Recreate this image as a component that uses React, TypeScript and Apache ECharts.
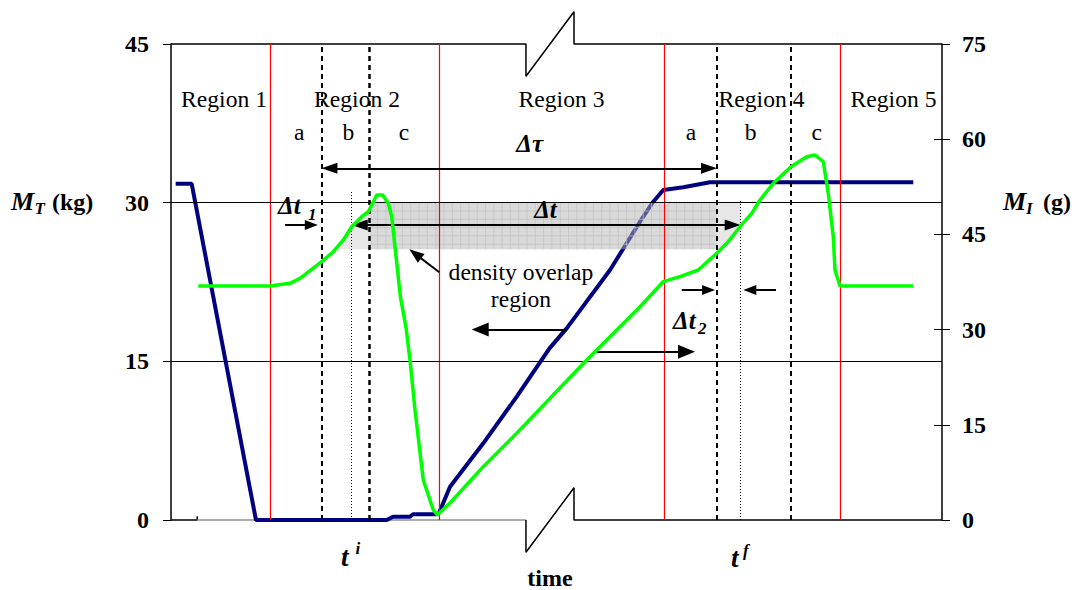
import React, { useEffect, useRef } from "react";
import * as echarts from "echarts";

// ---- data (time in arbitrary units 0..100) ----
const timeRange = [0, 100];
const massTotalTicks = [0, 45, 15]; // min, max, interval (kg)
const massIntTicks = [0, 75, 15]; // min, max, interval (g)
const massIntInnerTicks = [15, 30, 45, 60];

const blueTime = [0.61, 2.68, 11.02, 27.98, 28.79, 31.0, 31.39, 34.5, 34.76, 36.19, 40.5, 44.84, 49.09, 51.32, 56.94, 60.83, 62.55, 63.85, 66.45, 69.9, 96.28];
const blueMass = [31.79, 31.79, 0, 0, 0.31, 0.31, 0.54, 0.54, 0.66, 3.15, 7.25, 11.66, 16.23, 18.12, 23.63, 28.2, 30.09, 31.2, 31.45, 31.93, 31.93];

const greenTime = [3.54, 12.84, 15.43, 16.73, 19.55, 21.05, 22.35, 23.44, 24.73, 25.59, 26.03, 26.68, 27.46, 28.18, 28.63, 28.96, 29.38, 29.75, 30.5, 31.0, 31.65, 32.72, 34.02, 34.54, 36.19, 40.5, 44.84, 49.16, 53.92, 60.83, 63.85, 66.02, 68.39, 70.78, 72.28, 73.8, 75.32, 76.39, 78.12, 80.42, 82.45, 83.53, 84.6, 85.25, 85.9, 86.12, 86.77, 96.28];
const greenMass = [36.87, 36.87, 37.29, 38.08, 40.7, 42.27, 44.12, 46.21, 47.79, 48.57, 49.63, 51.21, 51.21, 49.9, 47.79, 44.12, 39.39, 35.2, 30.2, 25.21, 17.33, 6.3, 1.58, 0.79, 2.68, 8.4, 13.66, 19.17, 25.21, 33.61, 37.55, 38.34, 39.39, 42.02, 43.85, 46.21, 48.32, 50.42, 53.05, 55.66, 57.24, 57.51, 56.45, 51.47, 44.64, 39.39, 36.87, 36.87];

const regionBounds = [12.905, 34.825, 64.01, 86.83];
const subRegionBounds = [19.55, 25.72, 70.78, 80.42];
const dottedTimes = [23.44, 73.89];
const dottedTops = [31.04, 30.25];
const gridLevels = [15, 30];

const regionLabels = ["Region 1", "Region 2", "Region 3", "Region 4", "Region 5"];
const subLabels = ["a", "b", "c", "a", "b", "c"];

// axis break (time, kg)
const breakTimes = [46.04, 52.27];
const breakDepth = [3.05, 3.05];

// overlap band (time, kg)
const overlapTime = [25.72, 70.78];
const overlapMass = [25.59, 30];
const overlapLeftT = [21.05, 22.35, 23.44, 24.73, 25.72, 25.72];
const overlapLeftM = [25.59, 26.47, 27.73, 28.67, 29.2, 25.59];
const overlapRightT = [70.78, 71.1, 72.28, 73.8, 73.89, 73.89, 70.78];
const overlapRightM = [25.59, 25.59, 26.31, 27.73, 27.8, 30, 30];

// arrows: [t1, m1, t2, m2, headStart, headEnd, headW, headH]
const arrowDefs = [
  [20.55, 33.25, 69.78, 33.25, 1, 1, 11, 16],
  [24.48, 27.89, 72.85, 27.89, 1, 1, 11, 16],
  [14.79, 27.89, 18.2, 27.89, 0, 1, 10, 13],
  [66.24, 21.74, 69.72, 21.74, 0, 1, 10, 13],
  [78.47, 21.74, 75.07, 21.74, 0, 1, 10, 13],
  [34.8, 23.42, 31.68, 25.16, 0, 1, 11, 15],
  [51.32, 18.02, 40.1, 18.02, 0, 1, 14, 17],
  [55.21, 15.91, 66.86, 15.91, 0, 1, 14, 17],
];

const FONT = "Liberation Serif";

function zip(a: number[], b: number[]) {
  return a.map((v, i) => [v, b[i]]);
}

function txt(x: number, y: number, text: string, size: number, weight = "normal", style = "normal", align = "center") {
  return {
    type: "text",
    x,
    y,
    z: 100,
    style: {
      text,
      fontFamily: FONT,
      fontSize: size,
      fontWeight: weight,
      fontStyle: style,
      fill: "#000",
      align,
      verticalAlign: "middle",
    },
  };
}

export default function App() {
  const ref = useRef<HTMLDivElement>(null);
  useEffect(() => {
    if (!ref.current) return;
    const chart = echarts.init(ref.current, null, { renderer: "svg" });

    const [b0, b1] = breakTimes;
    const topFrame = [
      [timeRange[0], 45],
      [b0, 45],
      [b0, 45 - breakDepth[0]],
      [b1, 45 + breakDepth[1]],
      [b1, 45],
      [timeRange[1], 45],
    ];
    const bottomFrameLeft = [
      [timeRange[0], 0],
      [3.4, 0],
      [3.4, 0.35],
    ];
    const bottomFrameGrey = [
      [3.4, 0],
      [b0, 0],
    ];
    const bottomFrameRight = [
      [b0, 0],
      [b0, -breakDepth[0]],
      [b1, breakDepth[1]],
      [b1, 0],
      [timeRange[1], 0],
    ];

    const refMarks: any[] = [];
    gridLevels.forEach((v) => refMarks.push({ yAxis: v, lineStyle: { color: "#000", width: 1, type: "solid" } }));
    subRegionBounds.forEach((v, i) =>
      refMarks.push({ xAxis: v, lineStyle: { color: "#000", width: i === 1 ? 2.5 : 2, type: [5, 4] } })
    );
    dottedTimes.forEach((v, i) =>
      refMarks.push([
        { coord: [v, 0], lineStyle: { color: "#000", width: 1, type: [1, 2] } },
        { coord: [v, dottedTops[i]] },
      ])
    );
    const redMarks = regionBounds.map((v) => [
      { coord: [v, massTotalTicks[0]], lineStyle: { color: "#ff0000", width: 1.2, type: "solid", opacity: 1 } },
      { coord: [v, massTotalTicks[1]] },
    ]);

    // inner tick marks on the right axis (ticks crossing the axis line)
    const tickLen = (8 / 771) * (timeRange[1] - timeRange[0]);
    const innerTickMarks = massIntInnerTicks.map((v) => [
      { coord: [timeRange[1] - tickLen, v], lineStyle: { color: "#000", width: 1, type: "solid" } },
      { coord: [timeRange[1], v] },
    ]);

    const arrowMarks = arrowDefs.map((a) => [
      {
        coord: [a[0], a[1]],
        symbol: a[4] ? "triangle" : "none",
        symbolSize: [a[6], a[7]],
        lineStyle: { color: "#000", width: 2, type: "solid" },
      },
      { coord: [a[2], a[3]], symbol: a[5] ? "triangle" : "none", symbolSize: [a[6], a[7]] },
    ]);

    const overlapSeries = {
      type: "custom",
      yAxisIndex: 0,
      z: 4,
      silent: true,
      clip: false,
      data: [[overlapTime[0], overlapMass[0]]],
      renderItem: (_params: any, api: any) => {
        const p0 = api.coord([overlapTime[0], overlapMass[1]]);
        const p1 = api.coord([overlapTime[1], overlapMass[0]]);
        const children: any[] = [];
        children.push({
          type: "rect",
          shape: { x: p0[0], y: p0[1], width: p1[0] - p0[0], height: p1[1] - p0[1] },
          style: { fill: "#b4b4b4", opacity: 0.5 },
        });
        const left = overlapLeftT.map((t, i) => api.coord([t, overlapLeftM[i]]));
        const right = overlapRightT.map((t, i) => api.coord([t, overlapRightM[i]]));
        children.push({ type: "polygon", shape: { points: left }, style: { fill: "#d0d0d0", opacity: 0.5 } });
        children.push({ type: "polygon", shape: { points: right }, style: { fill: "#d0d0d0", opacity: 0.5 } });
        const step = 8.3;
        for (let x = p0[0] + step; x < p1[0]; x += step) {
          children.push({
            type: "line",
            shape: { x1: x, y1: p0[1], x2: x, y2: p1[1] },
            style: { stroke: "#c2c2c2", lineWidth: 0.7 },
          });
        }
        for (let y = p0[1] + step; y < p1[1]; y += step) {
          children.push({
            type: "line",
            shape: { x1: p0[0], y1: y, x2: p1[0], y2: y },
            style: { stroke: "#c2c2c2", lineWidth: 0.7 },
          });
        }
        return { type: "group", children };
      },
    };

    const regionCenters = [224, 357, 561.5, 761.5, 893.5];
    const subCenters = [299.3, 348.3, 404, 691, 750.7, 816.7];

    const graphics: any[] = [];
    regionLabels.forEach((r, i) => graphics.push(txt(regionCenters[i], 99, r, 23.6)));
    subLabels.forEach((s, i) => graphics.push(txt(subCenters[i], 131.5, s, 23.6)));
    graphics.push(txt(529.7, 143.3, "Δτ", 25, "bold", "italic"));
    graphics.push(txt(545.5, 209.3, "Δt", 25, "bold", "italic"));
    graphics.push(txt(278, 205, "Δt", 25, "bold", "italic", "left"));
    graphics.push(txt(308, 214, "1", 17, "bold", "italic", "left"));
    graphics.push(txt(673, 320, "Δt", 25, "bold", "italic", "left"));
    graphics.push(txt(698, 328, "2", 17, "bold", "italic", "left"));
    graphics.push(txt(521, 271.5, "density overlap", 23.6));
    graphics.push(txt(521, 299, "region", 23.6));
    graphics.push(txt(341, 557, "t", 27, "bold", "italic", "left"));
    graphics.push(txt(355.5, 548, "i", 17, "bold", "italic", "left"));
    graphics.push(txt(731, 558, "t", 27, "bold", "italic", "left"));
    graphics.push(txt(743, 550, "f", 17, "bold", "italic", "left"));
    graphics.push(txt(550, 578, "time", 24, "bold"));
    graphics.push(txt(11, 201, "M", 26, "bold", "italic", "left"));
    graphics.push(txt(34.5, 208, "T", 17, "bold", "italic", "left"));
    graphics.push(txt(52, 202, "(kg)", 24, "bold", "normal", "left"));
    graphics.push(txt(1003, 201, "M", 26, "bold", "italic", "left"));
    graphics.push(txt(1026, 208, "I", 17, "bold", "italic", "left"));
    graphics.push(txt(1043, 202, "(g)", 24, "bold", "normal", "left"));

    const axisLabelStyle = { fontFamily: FONT, fontSize: 24, fontWeight: "bold", color: "#000" };

    chart.setOption({
      animation: false,
      backgroundColor: "#fff",
      textStyle: { fontFamily: FONT },
      grid: { left: 171, top: 44, width: 771, height: 476, containLabel: false },
      xAxis: { type: "value", min: timeRange[0], max: timeRange[1], show: false },
      yAxis: [
        {
          type: "value",
          position: "left",
          min: massTotalTicks[0],
          max: massTotalTicks[1],
          interval: massTotalTicks[2],
          axisLine: { show: true, onZero: false, lineStyle: { color: "#000", width: 1.5 } },
          axisTick: { show: true, inside: false, length: 8, lineStyle: { color: "#000", width: 1 } },
          axisLabel: { ...axisLabelStyle, margin: 22 },
          splitLine: { show: false },
        },
        {
          type: "value",
          position: "right",
          min: massIntTicks[0],
          max: massIntTicks[1],
          interval: massIntTicks[2],
          axisLine: { show: true, onZero: false, lineStyle: { color: "#000", width: 1.5 } },
          axisTick: { show: true, inside: false, length: 8, lineStyle: { color: "#000", width: 1 } },
          axisLabel: { ...axisLabelStyle, margin: 20 },
          splitLine: { show: false },
        },
      ],
      series: [
        {
          name: "regionBounds",
          type: "line",
          yAxisIndex: 0,
          data: [],
          z: 1,
          markLine: { silent: true, symbol: ["none", "none"], label: { show: false }, data: redMarks },
        },
        {
          name: "refs",
          type: "line",
          yAxisIndex: 0,
          data: [],
          z: 1,
          markLine: { silent: true, symbol: ["none", "none"], label: { show: false }, data: refMarks },
        },
        {
          name: "innerTicks",
          type: "line",
          yAxisIndex: 1,
          data: [],
          z: 2,
          markLine: { silent: true, symbol: ["none", "none"], label: { show: false }, data: innerTickMarks },
        },
        {
          name: "frameTop",
          type: "line",
          yAxisIndex: 0,
          data: topFrame,
          clip: false,
          symbol: "none",
          z: 2,
          lineStyle: { color: "#000", width: 1.5 },
        },
        {
          name: "frameBottomLeft",
          type: "line",
          yAxisIndex: 0,
          data: bottomFrameLeft,
          clip: false,
          symbol: "none",
          z: 2,
          lineStyle: { color: "#000", width: 1.5 },
        },
        {
          name: "frameBottomGrey",
          type: "line",
          yAxisIndex: 0,
          data: bottomFrameGrey,
          clip: false,
          symbol: "none",
          z: 2,
          lineStyle: { color: "#909090", width: 1.5 },
        },
        {
          name: "frameBottomRight",
          type: "line",
          yAxisIndex: 0,
          data: bottomFrameRight,
          clip: false,
          symbol: "none",
          z: 2,
          lineStyle: { color: "#000", width: 1.5 },
        },
        {
          name: "M_T",
          type: "line",
          yAxisIndex: 0,
          data: zip(blueTime, blueMass),
          symbol: "none",
          z: 3,
          lineStyle: { color: "#000080", width: 4 },
        },
        overlapSeries,
        {
          name: "M_I",
          type: "line",
          yAxisIndex: 1,
          data: zip(greenTime, greenMass),
          symbol: "none",
          z: 5,
          lineStyle: { color: "#00ff00", width: 3.5 },
        },
        {
          name: "arrows",
          type: "line",
          yAxisIndex: 0,
          data: [],
          z: 6,
          markLine: {
            silent: true,
            symbol: ["none", "none"],
            label: { show: false },
            itemStyle: { color: "#000" },
            data: arrowMarks,
          },
        },
      ],
      graphic: graphics,
    });
    return () => chart.dispose();
  }, []);
  return <div ref={ref} style={{ position: "fixed", left: 0, top: 0, width: 1075, height: 590 }} />;
}
